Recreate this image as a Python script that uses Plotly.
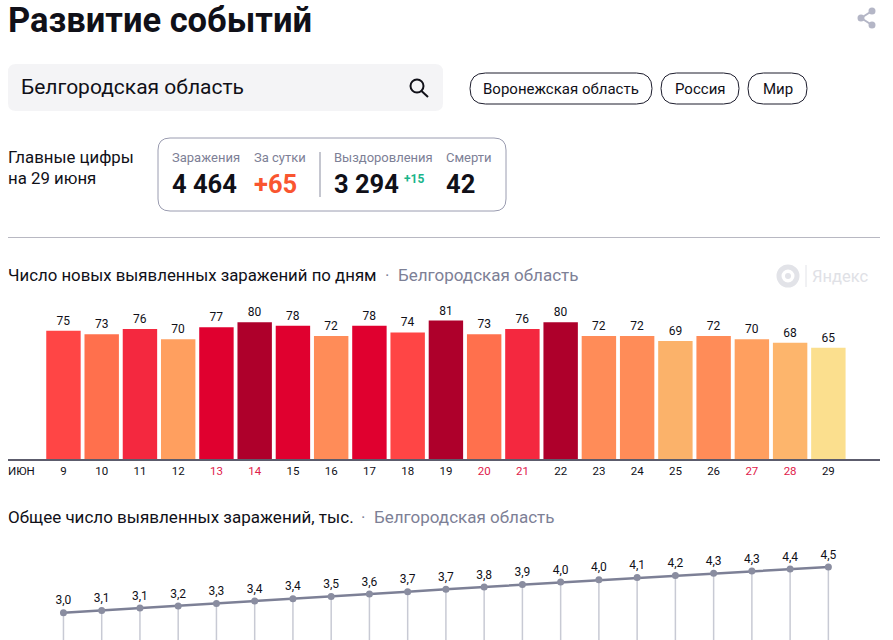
import plotly.graph_objects as go

W = 893
H = 640

days = [9, 10, 11, 12, 13, 14, 15, 16, 17, 18, 19, 20, 21, 22, 23, 24, 25, 26, 27, 28, 29]
new_cases = [75, 73, 76, 70, 77, 80, 78, 72, 78, 74, 81, 73, 76, 80, 72, 72, 69, 72, 70, 68, 65]
total_cases = [2.988, 3.061, 3.137, 3.207, 3.284, 3.364, 3.442, 3.514, 3.592, 3.666, 3.747,
               3.820, 3.896, 3.976, 4.048, 4.120, 4.189, 4.261, 4.331, 4.399, 4.464]
bar_colors = ['#ff4545', '#ff704d', '#f4283f', '#ff9f5f', '#e0002f', '#ae002b', '#e0002f',
              '#ff8c58', '#e0002f', '#ff4545', '#ae002b', '#ff704d', '#f4283f', '#ae002b',
              '#ff8c58', '#ff8c58', '#fbb26a', '#ff8c58', '#ff9f5f', '#fdb56c', '#fbdf8e']
weekend_days = [13, 14, 20, 21, 27, 28]

FONT = 'Roboto'
INK = '#101018'
GREY = '#7d8096'


def px(x):
    return x / W


def py(y):
    return 1 - y / H


def label(x, y, text, size, color=INK, anchor='left', family=FONT):
    # у аннотаций plotly есть внутренний отступ около 2 px
    if anchor == 'left':
        x -= 2
    return dict(x=px(x), y=py(y), xref='paper', yref='paper', text=text, showarrow=False,
                xanchor=anchor, yanchor='middle', align='left',
                font=dict(family=family, size=size, color=color))


def rounded(x0, y0, x1, y1, r, line=None, fill='rgba(0,0,0,0)', width=1):
    a, b, c, d = px(x0), py(y0), px(x1), py(y1)
    rx, ry = r / W, r / H
    path = (f'M {a + rx} {b} L {c - rx} {b} Q {c} {b} {c} {b - ry} L {c} {d + ry} Q {c} {d} {c - rx} {d} '
            f'L {a + rx} {d} Q {a} {d} {a} {d + ry} L {a} {b - ry} Q {a} {b} {a + rx} {b} Z')
    return dict(type='path', path=path, xref='paper', yref='paper', fillcolor=fill,
                line=dict(color=line or 'rgba(0,0,0,0)', width=width))


def seg(x0, y0, x1, y1, color, width=1):
    return dict(type='line', xref='paper', yref='paper', x0=px(x0), y0=py(y0), x1=px(x1), y1=py(y1),
                line=dict(color=color, width=width))


def dot(x, y, r, fill, line=None, width=1):
    return dict(type='circle', xref='paper', yref='paper', x0=px(x - r), x1=px(x + r),
                y0=py(y - r), y1=py(y + r), fillcolor=fill,
                line=dict(color=line or 'rgba(0,0,0,0)', width=width))


tick_text = [f'<span style="color:#e0204a">{d}</span>' if d in weekend_days else str(d) for d in days]

fig = go.Figure()
fig.add_trace(go.Bar(x=days, y=new_cases, width=0.9, marker=dict(color=bar_colors, line=dict(width=0)),
                     text=new_cases, textposition='outside', cliponaxis=False,
                     textfont=dict(family=FONT, size=12, color=INK),
                     xaxis='x', yaxis='y'))
fig.add_trace(go.Scatter(x=days, y=total_cases, mode='lines+markers+text',
                         line=dict(color='#7d8096', width=2.5),
                         marker=dict(color='#8a8da0', size=7),
                         error_y=dict(type='data', symmetric=False, array=[0] * len(days),
                                      arrayminus=total_cases, color='#c8cad4', thickness=1.5, width=0),
                         texttemplate='%{y:.1f}', textposition='top center',
                         textfont=dict(family=FONT, size=12, color=INK),
                         xaxis='x2', yaxis='y2'))

shapes = [
    rounded(8, 64, 443, 111, 8, fill='#f4f4f6'),
    rounded(470, 73, 652, 104, 15.5, line='#1c1c2c'),
    rounded(661, 73, 739, 104, 15.5, line='#1c1c2c'),
    rounded(748, 73, 807, 104, 15.5, line='#1c1c2c'),
    rounded(158, 138, 506, 211, 12, line='#9a9cb0'),
    seg(320, 152, 320, 197, '#8a8da0'),
    seg(8, 237.5, 880, 237.5, '#b8b8c2'),
    # значок поиска
    dot(417, 86, 6.5, 'rgba(0,0,0,0)', line=INK, width=2),
    seg(421.5, 91, 428, 97, INK, 2),
    # значок "поделиться"
    seg(861, 18, 872, 11, '#b4b6c6', 2),
    seg(861, 18, 872, 25, '#b4b6c6', 2),
    dot(861, 18, 3.5, '#b4b6c6'),
    dot(872, 11, 3.5, '#b4b6c6'),
    dot(872, 25, 3.5, '#b4b6c6'),
    # логотип
    dot(788, 276, 9, 'rgba(0,0,0,0)', line='#e2e3e8', width=5),
    dot(788, 276, 3, '#e2e3e8'),
    seg(806, 265, 806, 287, '#e2e3e8', 1),
]

annotations = [
    label(8, 20.5, '<b>Развитие событий</b>', 34.5),
    label(21, 87, 'Белгородская область', 21),
    label(561, 89, 'Воронежская область', 15, anchor='center'),
    label(700, 89, 'Россия', 15, anchor='center'),
    label(777.5, 89, 'Мир', 15, anchor='center'),
    label(8, 157, 'Главные цифры', 16.8),
    label(8, 178, 'на 29 июня', 16.8),
    label(172, 158, 'Заражения', 13, GREY),
    label(254, 158, 'За сутки', 13, GREY),
    label(334, 158, 'Выздоровления', 13, GREY),
    label(446, 158, 'Смерти', 13, GREY),
    label(172, 184, '<b>4 464</b>', 25.5),
    label(254, 184, '<b>+65</b>', 25.5, '#f9552f'),
    label(334, 184, '<b>3 294</b>', 25.5),
    label(404, 179, '<b>+15</b>', 12, '#1bb58a'),
    label(446, 184, '<b>42</b>', 25.5),
    label(8, 275, 'Число новых выявленных заражений по дням', 16.8),
    label(385, 275, '·', 17, GREY),
    label(398, 275, 'Белгородская область', 17, GREY),
    label(812, 276, 'Яндекс', 16.5, '#e0e1e6'),
    label(8, 470.5, 'ИЮН', 11.5),
    label(8, 517, 'Общее число выявленных заражений, тыс.', 17),
    label(361, 517, '·', 17, GREY),
    label(374, 517, 'Белгородская область', 17, GREY),
]

fig.update_layout(
    width=W, height=H, margin=dict(l=0, r=0, t=0, b=0), showlegend=False,
    paper_bgcolor='white', plot_bgcolor='white', separators=', ',
    font=dict(family=FONT, color=INK), shapes=shapes, annotations=annotations,
    xaxis=dict(domain=[px(8), px(880)], range=[7.55, 30.35], showgrid=False, zeroline=False,
               showline=True, linecolor='#5c5c6c', linewidth=2, ticks='',
               tickmode='array', tickvals=days, ticktext=tick_text, tickfont=dict(family=FONT, size=11.5, color=INK)),
    yaxis=dict(domain=[py(459), py(300)], range=[0, 93], visible=False, showgrid=False, zeroline=False),
    xaxis2=dict(domain=[px(8), px(880)], range=[7.55, 30.35], anchor='y2', visible=False,
                showgrid=False, zeroline=False),
    yaxis2=dict(domain=[py(640), py(545)], range=[2.109, 5.17], anchor='x2', visible=False,
                showgrid=False, zeroline=False),
)

fig.write_html('out.html', config=dict(displayModeBar=False),
               post_script="document.body.style.margin='0';")
